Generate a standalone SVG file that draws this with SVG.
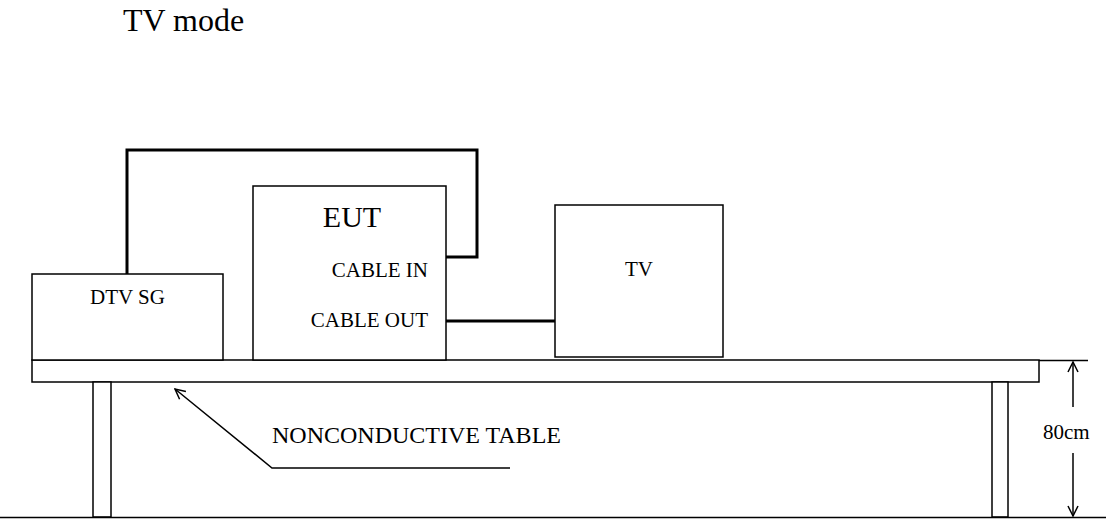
<svg xmlns="http://www.w3.org/2000/svg" width="1106" height="519" viewBox="0 0 1106 519">
<style>
.box{fill:#fff;stroke:#000;stroke-width:1.5}
.ln{fill:none;stroke:#000;stroke-width:1.5}
.cable{fill:none;stroke:#000;stroke-width:3}
text{font-family:"Liberation Serif","Times New Roman",serif;fill:#000}
.lbl{font-size:21px}
</style>
<defs>
<marker id="ah" viewBox="0 0 12 12" refX="11" refY="6" markerWidth="12" markerHeight="12" markerUnits="userSpaceOnUse" orient="auto">
<path d="M1,1 L11,6 L1,11" fill="none" stroke="#000" stroke-width="1.5"/>
</marker>
</defs>
<rect width="1106" height="519" fill="#fff"/>
<text x="123" y="31" font-size="32">TV mode</text>
<g id="table">
<rect class="box" x="32" y="360" width="1007" height="22"/>
<line class="ln" x1="1039" y1="360.5" x2="1088" y2="360.5"/>
<rect class="box" x="93" y="382" width="18" height="135"/>
<rect class="box" x="992" y="382" width="16" height="135"/>
<line class="ln" x1="0" y1="517.5" x2="1106" y2="517.5"/>
</g>
<g id="dtvsg">
<rect class="box" x="32" y="274" width="191" height="86"/>
<text class="lbl" x="127.5" y="304" text-anchor="middle">DTV SG</text>
</g>
<g id="eut">
<rect class="box" x="253" y="186" width="193" height="174"/>
<text x="352" y="227" font-size="30" text-anchor="middle">EUT</text>
<text class="lbl" x="428" y="277" text-anchor="end">CABLE IN</text>
<text class="lbl" x="428" y="327" text-anchor="end">CABLE OUT</text>
</g>
<g id="tv">
<rect class="box" x="555" y="205" width="168" height="152"/>
<text class="lbl" x="639" y="276" text-anchor="middle">TV</text>
</g>
<g id="connectors">
<polyline class="cable" points="127,274 127,150 477,150 477,257 446,257"/>
<line class="cable" x1="446" y1="321" x2="555" y2="321"/>
<polyline class="ln" points="510,468 272,468 175,389" marker-end="url(#ah)"/>
<line class="ln" x1="1073" y1="407" x2="1073" y2="362" marker-end="url(#ah)"/>
<line class="ln" x1="1073" y1="453" x2="1073" y2="516" marker-end="url(#ah)"/>
</g>
<text x="272" y="443" font-size="24">NONCONDUCTIVE TABLE</text>
<text class="lbl" x="1043" y="439">80cm</text>
</svg>
